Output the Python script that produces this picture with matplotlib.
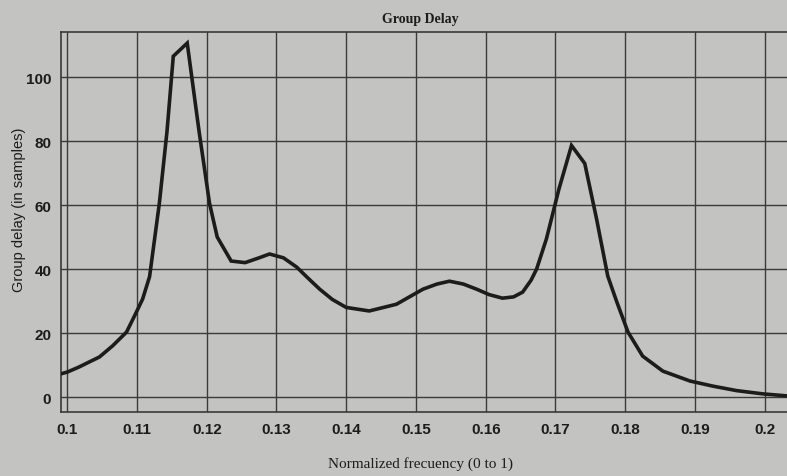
import matplotlib
matplotlib.use("Agg")
import matplotlib.pyplot as plt

freq = [0.0990, 0.1000, 0.1017, 0.1030, 0.1046, 0.1065, 0.1085, 0.1099, 0.1108,
        0.1118, 0.1132, 0.1143, 0.1152, 0.1172, 0.1189, 0.1204, 0.1215, 0.1235,
        0.1255, 0.1275, 0.1290, 0.1310, 0.1329, 0.1345, 0.1362, 0.1380, 0.1400,
        0.1433, 0.1472, 0.1510, 0.1530, 0.1548, 0.1568, 0.1587, 0.1605, 0.1624,
        0.1640, 0.1653, 0.1665, 0.1673, 0.1687, 0.1705, 0.1723, 0.1742, 0.1759,
        0.1775, 0.1788, 0.1804, 0.1825, 0.1854, 0.1893, 0.1926, 0.1960, 0.1997,
        0.2035]
delay = [7.2, 7.8, 9.4, 10.8, 12.5, 16.0, 20.3, 26.5, 30.6,
         37.6, 60.5, 83.0, 106.5, 110.6, 83.0, 60.5, 50.0, 42.5,
         42.0, 43.5, 44.7, 43.5, 40.6, 37.2, 33.7, 30.5, 28.0,
         26.9, 29.0, 33.7, 35.3, 36.2, 35.3, 33.7, 32.0, 30.9,
         31.3, 32.8, 36.5, 40.0, 49.4, 65.0, 78.6, 73.0, 55.6,
         37.8, 29.7, 20.3, 12.8, 8.1, 5.0, 3.4, 2.0, 1.0,
         0.3]

xticks = [0.10, 0.11, 0.12, 0.13, 0.14, 0.15, 0.16, 0.17, 0.18, 0.19, 0.20]
xticklabels = ["0.1", "0.11", "0.12", "0.13", "0.14", "0.15", "0.16", "0.17", "0.18", "0.19", "0.2"]
yticks = [0, 20, 40, 60, 80, 100]
yticklabels = ["0", "20", "40", "60", "80", "100"]

bg = "#c3c3c1"
ink = "#1c1c1c"

fig = plt.figure(figsize=(7.87, 4.77), dpi=100, facecolor=bg)
ax = fig.add_axes([0.0775, 0.134, 0.9225, 0.797], facecolor=bg)

ax.plot(freq, delay, color=ink, lw=2.6, solid_joinstyle="miter", zorder=3)

ax.set_xlim(0.0991, 0.2032)
ax.set_ylim(-4.7, 114.1)
ax.set_xticks(xticks)
ax.set_xticklabels(xticklabels)
ax.set_yticks(yticks)
ax.set_yticklabels(yticklabels)
ax.grid(True, color="#3a3a3a", lw=1.0)
ax.tick_params(length=0, pad=7, labelsize=11, colors=ink)
for lab in ax.get_xticklabels() + ax.get_yticklabels():
    lab.set_family("Liberation Sans")
    lab.set_fontweight("bold")
for s in ["left", "top", "bottom"]:
    ax.spines[s].set_color("#3a3a3a")
    ax.spines[s].set_linewidth(1.2)
ax.spines["right"].set_visible(False)

fig.text(0.534, 0.960, "Group Delay", ha="center", va="center",
         family="Liberation Serif", fontweight="bold", fontsize=10, color=ink)
fig.text(0.534, 0.028, "Normalized frecuency (0 to 1)", ha="center", va="center",
         family="Liberation Serif", fontsize=11, color=ink)
fig.text(0.024, 0.56, "Group delay (in samples)", ha="center", va="center",
         rotation=90, family="Liberation Sans", fontsize=10.5, color=ink)

fig.savefig("out.png", dpi=100, facecolor=bg)
